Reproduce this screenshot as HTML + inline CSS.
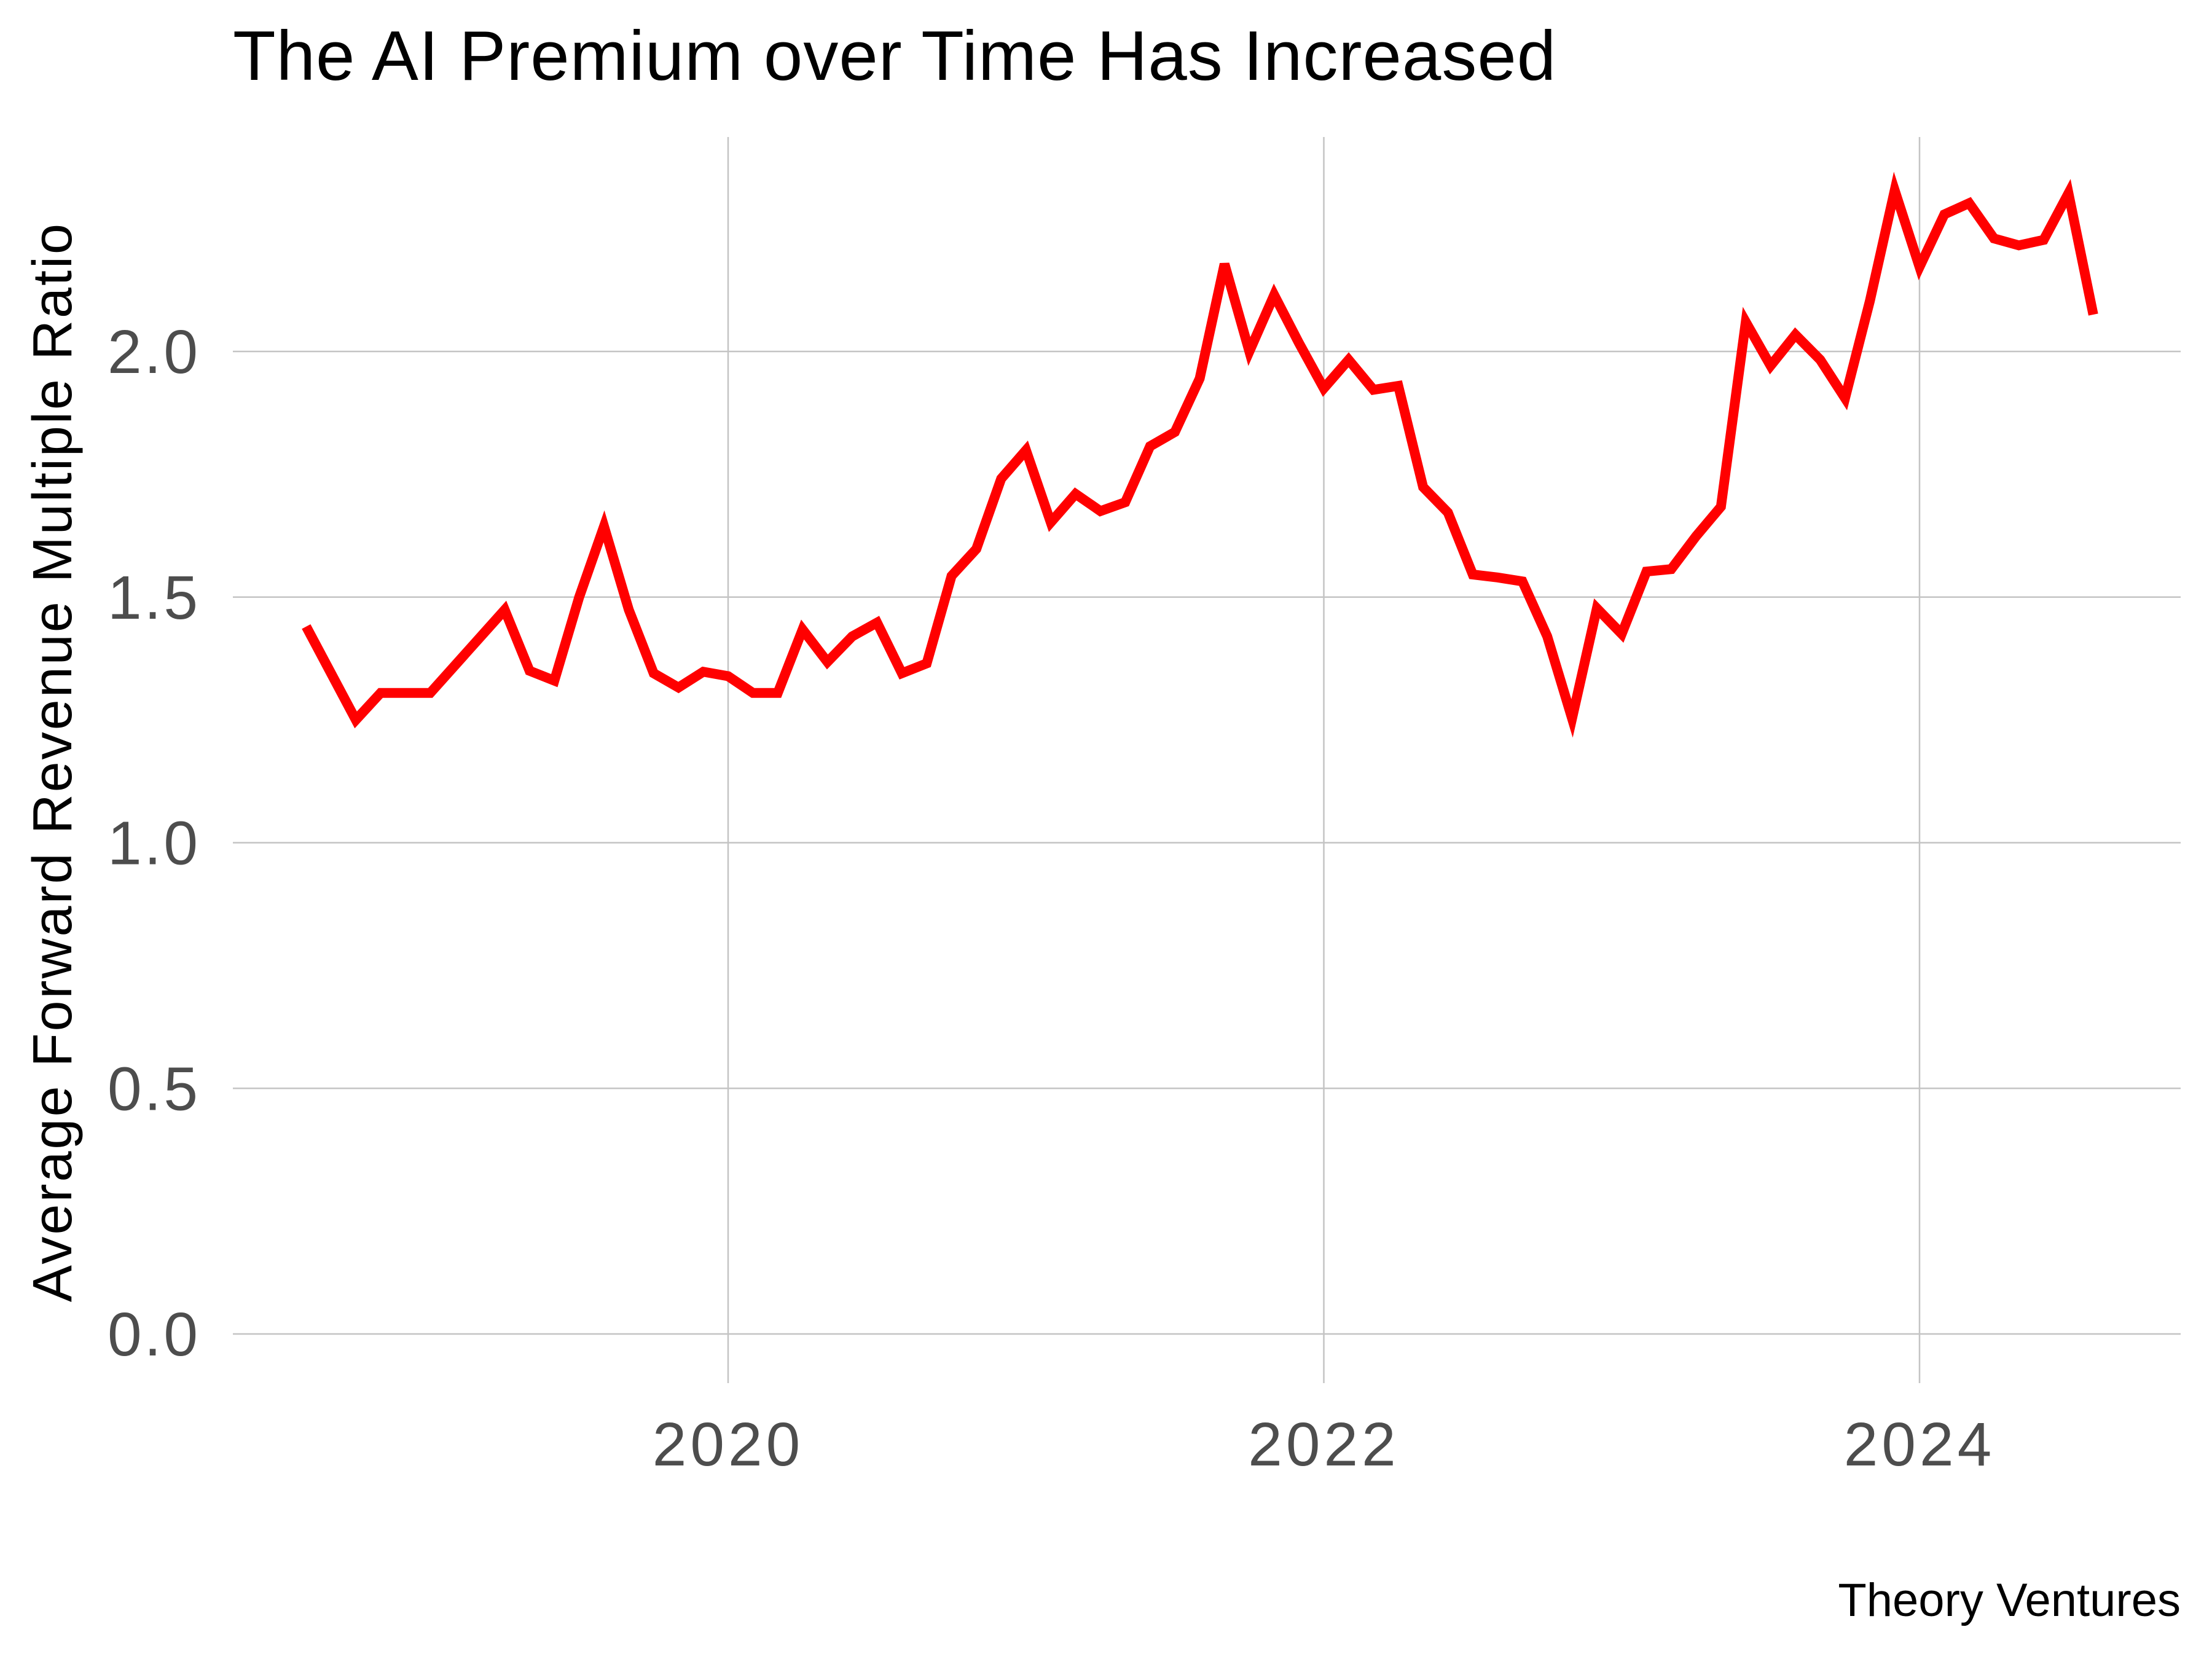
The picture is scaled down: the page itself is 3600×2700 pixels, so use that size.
<!DOCTYPE html>
<html><head><meta charset="utf-8"><style>
html,body{margin:0;padding:0;background:#fff;}
svg{display:block;font-family:"Liberation Sans",sans-serif;}
</style></head><body>
<svg id="chart" width="3600" height="2700" viewBox="0 0 3600 2700" xmlns="http://www.w3.org/2000/svg">
<rect width="3600" height="2700" fill="#fff"/>
<text x="379" y="130" font-size="114" letter-spacing="1" fill="#000">The AI Premium over Time Has Increased</text>
<g id="grid"></g>
<g id="yticks"></g>
<g id="xticks"></g>
<text transform="translate(116,1240) rotate(-90)" text-anchor="middle" font-size="90" letter-spacing="3" fill="#000">Average Forward Revenue Multiple Ratio</text>
<g id="series"></g>
<text x="3549" y="2630" text-anchor="end" font-size="76" fill="#000">Theory Ventures</text>
</svg>
<script>
const dates=["2018-08","2018-10","2018-11","2019-01","2019-04","2019-05","2019-06","2019-07","2019-08","2019-09","2019-10","2019-11","2019-12","2020-01","2020-02","2020-03","2020-04","2020-05","2020-06","2020-07","2020-08","2020-09","2020-10","2020-11","2020-12","2021-01","2021-02","2021-03","2021-04","2021-05","2021-06","2021-07","2021-08","2021-09","2021-10","2021-11","2021-12","2022-01","2022-02","2022-03","2022-04","2022-05","2022-06","2022-07","2022-08","2022-09","2022-10","2022-11","2022-12","2023-01","2023-02","2023-03","2023-04","2023-05","2023-06","2023-07","2023-08","2023-09","2023-10","2023-11","2023-12","2024-01","2024-02","2024-03","2024-04","2024-05","2024-06","2024-07","2024-08"];
const values=[1.44,1.25,1.305,1.305,1.474,1.35,1.33,1.50,1.644,1.474,1.345,1.316,1.348,1.339,1.305,1.305,1.434,1.368,1.42,1.448,1.345,1.365,1.543,1.598,1.741,1.799,1.652,1.71,1.675,1.693,1.807,1.836,1.945,2.178,2.0,2.115,2.017,1.925,1.983,1.922,1.93,1.724,1.672,1.546,1.54,1.532,1.42,1.253,1.477,1.425,1.552,1.557,1.624,1.684,2.06,1.971,2.034,1.983,1.905,2.103,2.328,2.172,2.279,2.302,2.23,2.216,2.227,2.322,2.075];
const yTicks=[0,0.5,1,1.5,2];
const yTickLabels=["0.0","0.5","1.0","1.5","2.0"];
const xTicks=[2020,2022,2024];
const xTickLabels=["2020","2022","2024"];

const NS="http://www.w3.org/2000/svg";
const L=379,R=3549,T=223,B=2251;
function xs(t){return 1185+(t-2020)*(3124-1185)/4;}
function ys(v){return 2171-v*(2171-572)/2;}
function dec(d){const p=d.split("-");return +p[0]+(+p[1]-1)/12;}
function mk(tag,attrs,parent){const e=document.createElementNS(NS,tag);for(const k in attrs)e.setAttribute(k,attrs[k]);parent.appendChild(e);return e;}
const grid=document.getElementById("grid"),yg=document.getElementById("yticks"),xg=document.getElementById("xticks"),sg=document.getElementById("series");
yTicks.forEach((v,i)=>{
  const ln=mk("line",{x1:L,x2:R,y1:ys(v),y2:ys(v),stroke:"#c4c4c4","stroke-width":2.5},grid);
  
  
  const tx=mk("text",{x:326,y:ys(v)+35,"text-anchor":"end","font-size":100,"letter-spacing":4,fill:"#4d4d4d"},yg);
  tx.textContent=yTickLabels[i];
  
  
});
xTicks.forEach((t,i)=>{
  const ln=mk("line",{x1:xs(t),x2:xs(t),y1:T,y2:B,stroke:"#c4c4c4","stroke-width":2.5},grid);
  
  
  const tx=mk("text",{x:xs(t),y:2385,"text-anchor":"middle","font-size":100,"letter-spacing":6,fill:"#4d4d4d"},xg);
  tx.textContent=xTickLabels[i];
  
  
});
const pts=dates.map((d,i)=>xs(dec(d)).toFixed(1)+","+ys(values[i]).toFixed(1)).join(" ");
const pl=mk("polyline",{points:pts,fill:"none",stroke:"#ff0000","stroke-width":16,"stroke-linejoin":"miter","stroke-miterlimit":4},sg);


</script>
</body></html>
